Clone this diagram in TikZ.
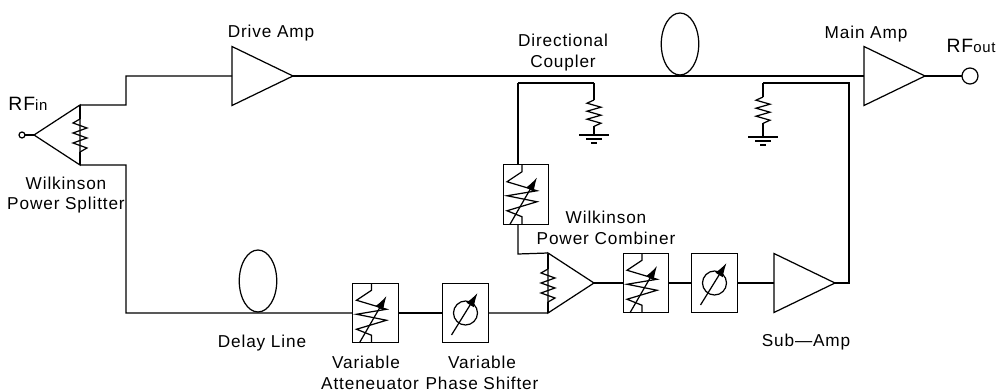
\documentclass[tikz,border=0pt]{standalone}
\usepackage{fontspec}
\setmainfont[LetterSpace=5]{Liberation Sans}
\usetikzlibrary{shapes.geometric,arrows.meta}
\tikzset{
	amp/.style={draw, isosceles triangle, isosceles triangle stretches, inner sep=0pt, outer sep=0pt, minimum height=1.22cm, minimum width=1.18cm},
	wilk/.style={amp, minimum height=0.92cm, minimum width=1.2cm},
	cbox/.style={draw, rectangle, inner sep=0pt, outer sep=0pt, minimum width=0.91cm, minimum height=1.19cm},
	port/.style={draw, circle, inner sep=0pt, outer sep=0pt},
	coil/.style={draw, ellipse, inner sep=0pt, minimum width=0.75cm, minimum height=1.24cm},
	lab/.style={font=\fontsize{9.8}{11.6}\selectfont, align=center, inner sep=0pt},
	rflab/.style={lab, font=\fontsize{11}{14}\selectfont},
	wire/.style={line width=0.7pt},
	bus/.style={line width=1.1pt}
}
\begin{document}
\begin{tikzpicture}[x=0.02cm,y=-0.02cm,line width=0.7pt]
	\useasboundingbox (0,0) rectangle (1006,391);

	% amplifiers and combiners
	\node[wilk, shape border rotate=180, anchor=lower side] (split) at (80,135) {};
	\node[amp, anchor=lower side] (drive) at (232,76) {};
	\node[amp, anchor=lower side] (main) at (864,76) {};
	\node[amp, anchor=lower side] (sub) at (774,283) {};
	\node[wilk, anchor=lower side] (comb) at (548,283) {};

	% attenuators and shifters
	\node[cbox] (attA) at (375.5,313) {};
	\node[cbox] (phA) at (465.5,313) {};
	\node[cbox] (attB) at (526,194.5) {};
	\node[cbox] (attC) at (646,283) {};
	\node[cbox] (phB) at (714.5,283) {};

	\foreach \n in {attA,attB,attC}{
		\draw[wire] ([xshift=-4*0.02cm]\n.north) -- ++(0,7) -- ++(-15,10) -- ++(30,9) -- ++(-30,5) -- ++(30,6) -- ++(-30,9) -- ++(15,6) -- ([xshift=-4*0.02cm]\n.south);
		\draw[wire, -{Latex[length=8pt,width=5pt]}] ([xshift=-16*0.02cm]\n.south) -- ([xshift=11*0.02cm,yshift=17*0.02cm]\n.center);
	}
	\foreach \n in {phA,phB}{
		\draw[wire] (\n.center) circle (12);
		\draw[wire, -{Latex[length=8pt,width=5pt]}] ([xshift=-14*0.02cm,yshift=-22*0.02cm]\n.center) -- ([xshift=12*0.02cm,yshift=20*0.02cm]\n.center);
	}

	% ports and couplers
	\node[port, minimum size=0.12cm] (in) at (22,135) {};
	\node[port, minimum size=0.32cm] (out) at (970,76) {};
	\node[coil] (dcoup) at (680,44) {};
	\node[coil] (delay) at (258,281) {};

	% corners
	\coordinate (a1) at (126,105);
	\coordinate (a2) at (126,76);
	\coordinate (b1) at (126,165);
	\coordinate (b2) at (126,313);
	\coordinate (c1) at (518,254);
	\coordinate (c2) at (518,83);
	\coordinate (c3) at (594,83);
	\coordinate (d1) at (849,283);
	\coordinate (d2) at (849,83);
	\coordinate (d3) at (763,83);
	\coordinate (g1) at (594,135);
	\coordinate (g2) at (763,137);

	\draw[wire] (in) -- (split.apex);
	\draw[wire] (split.right corner) -- (a1) -- (a2) -- (drive.lower side);
	\draw[bus] (drive.apex) -- (main.lower side);
	\draw[wire] (main.apex) -- (out);
	\draw[wire] (split.left corner) -- (b1) -- (b2) -- (attA);
	\draw[wire] (attA) -- (phA);
	\draw[wire] (phA) -- (comb.right corner);
	\draw[wire] (comb.apex) -- (attC);
	\draw[wire] (attC) -- (phB);
	\draw[wire] (phB) -- (sub.lower side);
	\draw[wire] (sub.apex) -- (d1) -- (d2) -- (d3);
	\draw[wire] (comb.left corner) -- (c1) -- (attB.south -| c1);
	\draw[wire] (attB.north -| c1) -- (c2);
	\draw[bus] (c2) -- (c3);
	\draw[wire] (d3) -- ++(0,14);
	\draw[wire] (c3) -- ++(0,17);

	% resistors
	\foreach \x/\y/\s in {80/119/5, 548/269/5, 594/100/4, 763/97/4}{
		\draw[wire] (\x,\y) -- ++(-7,0.8*\s) -- ++(14,\s) -- ++(-14,\s) -- ++(14,\s) -- ++(-14,\s) -- ++(14,\s) -- ++(-7,0.8*\s);
	}
	\draw[wire] (80,105) -- (80,119) (80,152) -- (80,165);
	\draw[wire] (548,254) -- (548,269) (548,302) -- (548,313);
	\draw[wire] (594,126) -- (g1);
	\draw[wire] (763,123) -- (g2);

	% grounds
	\foreach \c in {g1,g2}{
		\draw[wire] ([xshift=-15*0.02cm]\c) -- ([xshift=15*0.02cm]\c);
		\draw[wire] ([xshift=-8*0.02cm,yshift=-4*0.02cm]\c) -- ([xshift=8*0.02cm,yshift=-4*0.02cm]\c);
		\draw[wire] ([xshift=-3*0.02cm,yshift=-8*0.02cm]\c) -- ([xshift=3*0.02cm,yshift=-8*0.02cm]\c);
	}

	% labels
	\node[lab] (tdrive) at (271,33) {Drive Amp};
	\node[lab] (tmain) at (866,34) {Main Amp};
	\node[lab] (tdc) at (563,52.5) {Directional\\Coupler};
	\node[lab] (tsplit) at (66,195) {Wilkinson\\Power Splitter};
	\node[lab] (tcomb) at (606,228) {Wilkinson\\Power Combiner};
	\node[lab] (tdelay) at (262,343) {Delay Line};
	\node[lab] (tatt) at (370,373) {Variable\kern0.16cm\\Atteneuator};
	\node[lab] (tph) at (482,373) {Variable\\Phase Shifter};
	\node[lab] (tsub) at (806,342) {Sub---Amp};
	\node[rflab] (trin) at (28,104) {RF{\fontsize{8.5}{12}\selectfont in}};
	\node[rflab] (trout) at (971,46) {RF{\fontsize{8.5}{12}\selectfont out}};
\end{tikzpicture}
\end{document}
